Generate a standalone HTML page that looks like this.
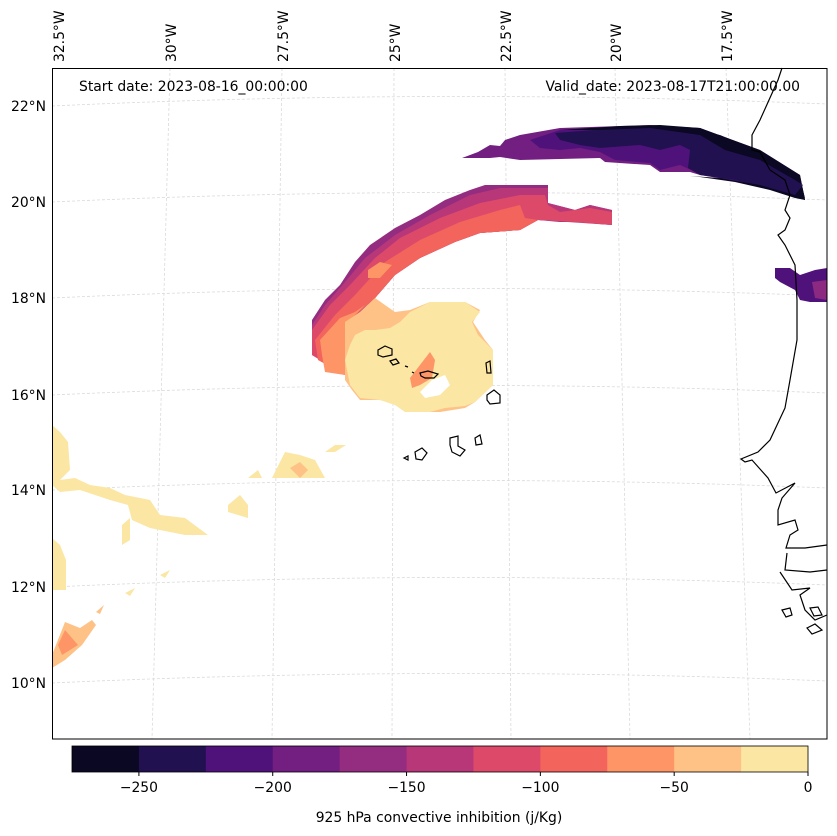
<!DOCTYPE html>
<html><head><meta charset="utf-8"><style>
body{margin:0;background:#fff;font-family:"DejaVu Sans","Liberation Sans",sans-serif}
svg{display:block}
</style></head><body>
<svg id="c" width="837" height="836" xmlns="http://www.w3.org/2000/svg" font-family="DejaVu Sans, Liberation Sans, sans-serif" font-size="13.9">
<g id="grid" stroke="#dadada" stroke-width="0.8" stroke-dasharray="3,2" fill="none"></g>
<g id="fields" stroke="none">
 <path fill="#721f81" d="M462,158 L478,152 L490,145 L500,146 L505,140 L520,135 L560,128 L650,125 L700,128 L760,150 L800,175 L805,200 L795,195 L770,188 L730,180 L700,175 L690,172 L660,172 L650,165 L605,162 L600,158 L520,160 L500,157 L490,158Z"/>
 <path fill="#4f127b" d="M530,140 L560,130 L650,126 L700,128 L760,152 L800,178 L805,200 L770,188 L730,180 L700,174 L680,165 L660,170 L650,163 L615,160 L600,152 L580,148 L560,150 L540,148Z"/>
 <path fill="#221150" d="M555,133 L620,128 L680,128 L720,135 L760,152 L800,178 L805,198 L770,188 L735,180 L700,175 L688,168 L690,150 L680,145 L660,150 L640,145 L600,148 L580,145 L560,140Z"/>
 <path fill="#0a0822" d="M560,130 L620,126 L660,125 L700,128 L760,150 L800,175 L805,200 L795,198 L770,190 L735,182 L700,177 L690,176 L720,178 L760,185 L795,195 L803,185 L795,180 L760,160 L725,150 L700,135 L650,128 L600,130Z"/>
 <path fill="#4f127b" d="M775,268 L790,268 L800,275 L815,270 L827,268 L827,302 L810,302 L800,300 L795,290 L780,282 L775,278Z"/>
 <path fill="#8c2981" d="M812,282 L827,280 L827,300 L815,298Z"/>
 <path fill="#942c80" d="M312,320 L325,300 L340,285 L355,262 L370,245 L395,228 L420,215 L445,200 L470,190 L485,185 L548,185 L548,203 L575,210 L590,205 L612,210 L612,225 L575,222 L560,222 L538,220 L520,230 L480,233 L455,242 L420,258 L395,275 L375,298 L360,312 L348,322 L345,375 L335,372 L325,357 L312,355Z"/>
 <path fill="#b73779" d="M312,325 L325,305 L345,282 L365,258 L395,235 L430,215 L470,195 L500,188 L548,188 L548,203 L575,210 L590,205 L612,210 L612,225 L538,220 L520,230 L480,233 L455,242 L420,258 L395,275 L375,298 L348,322 L345,375 L312,355Z"/>
 <path fill="#dd4a69" d="M312,330 L330,305 L350,285 L375,258 L400,238 L440,218 L480,203 L520,195 L545,195 L548,205 L560,212 L590,208 L612,212 L612,225 L575,222 L538,220 L520,230 L480,233 L455,242 L420,258 L395,275 L375,298 L348,322 L345,375 L312,355Z"/>
 <path fill="#f2645c" d="M315,340 L335,315 L355,295 L385,262 L420,240 L460,222 L500,210 L520,205 L525,218 L538,220 L520,230 L480,233 L455,242 L420,258 L395,275 L375,298 L348,322 L345,375 L318,360Z"/>
 <path fill="#fd9567" d="M368,270 L380,262 L392,265 L380,278 L368,278Z M320,340 L340,318 L355,312 L365,305 L348,322 L345,375 L325,372 L322,355Z"/>
 <path fill="#fec287" d="M345,322 L360,312 L375,298 L395,312 L410,310 L430,302 L465,302 L480,310 L473,322 L485,340 L493,350 L493,385 L475,402 L465,408 L440,412 L420,412 L400,405 L380,400 L360,400 L352,390 L345,380Z"/>
 <path fill="#fbe6a4" d="M355,335 L365,330 L375,330 L390,328 L400,322 L410,312 L430,302 L465,302 L480,312 L472,322 L478,335 L488,345 L493,350 L493,385 L475,402 L465,406 L445,408 L430,412 L405,412 L395,405 L380,400 L360,398 L350,385 L345,360 L350,345Z"/>
 <path fill="#fd9567" d="M420,365 L430,352 L435,360 L432,378 L420,385 L412,388 L410,378Z"/>
 <path fill="#ffffff" d="M420,392 L432,380 L445,375 L450,385 L440,395 L425,398Z"/>
 <path fill="#fbe6a4" d="M52,425 L60,432 L68,442 L70,470 L60,480 L75,478 L90,485 L110,488 L125,495 L150,500 L160,515 L185,518 L208,535 L185,535 L150,528 L132,520 L128,505 L110,500 L80,490 L60,492 L52,485Z"/>
 <path fill="#fbe6a4" d="M228,505 L240,495 L248,505 L248,518 L238,515 L228,512Z M52,538 L60,545 L66,560 L66,590 L52,590Z M122,525 L130,518 L130,540 L122,545Z M248,478 L258,470 L262,478Z M272,478 L285,452 L300,455 L315,460 L325,478 Z M325,452 L335,445 L346,445 L335,452Z M160,575 L170,570 L165,578Z M125,593 L135,588 L130,596Z"/>
 <path fill="#fec287" d="M290,468 L300,462 L308,470 L300,478 Z"/>
 <path fill="#fec287" d="M52,655 L65,622 L80,628 L92,620 L96,625 L82,645 L65,660 L52,668Z M96,612 L104,605 L100,614Z"/>
 <path fill="#fd9567" d="M65,630 L78,645 L62,655 L58,645Z"/>
</g>
<g fill="none" stroke="#000" stroke-width="1.2">
 <path d="M782,68 L778,80 L760,120 L752,135 L752,150 L760,152 L770,170 L785,180 L790,195 L785,210 L790,218 L785,230 L778,235 L785,245 L795,265 L797,300 L797,340 L790,380 L785,408 L770,440 L758,452 L741,459 L745,462 L752,460 L768,478 L776,493 L795,483 L782,498 L778,510 L778,525 L795,520 L798,530 L790,535 L786,548 L805,548 L827,545 M787,553 L785,570 L810,572 L827,570 M780,572 L792,590 L810,588 L800,595 L805,610 L815,620 L827,615"/>
 <path d="M378,350 L385,346 L392,349 L392,355 L383,357 L378,355Z M390,361 L396,359 L399,363 L393,365Z M405,366 L408,367 M412,372 L414,373 M420,373 L428,371 L438,374 L434,378 L425,378 L421,376Z M486,363 L490,361 L491,373 L487,373Z M487,395 L494,390 L500,395 L500,403 L490,404 L487,400Z M450,438 L458,436 L458,446 L465,450 L460,456 L452,452 L450,445Z M475,438 L480,435 L482,444 L476,445Z M415,452 L422,448 L427,453 L422,460 L416,459Z M404,458 L408,456 L408,460Z M782,610 L790,608 L792,615 L786,617Z M810,608 L818,607 L822,615 L814,616Z M807,628 L815,624 L822,630 L812,634Z"/>
</g>
<rect x="52.5" y="68.5" width="774.5" height="670.5" fill="none" stroke="#000" stroke-width="1"/>
<text x="79" y="91">Start date: 2023-08-16_00:00:00</text>
<text x="800" y="91" text-anchor="end">Valid_date: 2023-08-17T21:00:00.00</text>
<g id="lonlabels"></g>
<g id="latlabels"></g>
<g id="cbar"></g>
<text x="439" y="822" text-anchor="middle">925 hPa convective inhibition (j/Kg)</text>
</svg>
<script>
const levels=[-275,-250,-225,-200,-175,-150,-125,-100,-75,-50,-25,0];
const colors=["#0a0822","#221150","#4f127b","#721f81","#942c80","#b73779","#dd4a69","#f2645c","#fd9567","#fec287","#fbe6a4"];
const cbTicks=[-250,-200,-150,-100,-50,0];
const lonLabels=["32.5°W","30°W","27.5°W","25°W","22.5°W","20°W","17.5°W"];
const lonTop=[60,172,284,396,507,617,728];
const lonBottom=[null,152,272,392,511,630,750];
const latLabels=["22°N","20°N","18°N","16°N","14°N","12°N","10°N"];
const latLeft=[106,202,298,395,490,587,683];
const NS="http://www.w3.org/2000/svg";
function mk(t,a,p){const e=document.createElementNS(NS,t);for(const k in a)e.setAttribute(k,a[k]);p.appendChild(e);return e;}
const cb=document.getElementById('cbar');
const x0=72,x1=808;
const cx=v=>x0+(v-levels[0])/(levels[levels.length-1]-levels[0])*(x1-x0);
for(let i=0;i<colors.length;i++){
 const r=mk('rect',{x:cx(levels[i]),y:746,width:cx(levels[i+1])-cx(levels[i])+0.5,height:26,fill:colors[i]},cb);
 
 
}
mk('rect',{x:x0,y:746,width:x1-x0,height:26,fill:'none',stroke:'#000','stroke-width':0.8},cb);
cbTicks.forEach(v=>{
 mk('line',{x1:cx(v),x2:cx(v),y1:772,y2:776,stroke:'#000'},cb);
 const t=mk('text',{x:cx(v),y:792,'text-anchor':'middle'},cb);
 t.textContent=v<0?'\u2212'+Math.abs(v):v;
 
 
});
const g=document.getElementById('grid');
lonTop.forEach((x,i)=>{
 if(lonBottom[i]!==null){const l=mk('line',{x1:x-2,y1:68,x2:lonBottom[i],y2:739},g);
 
 }
 const t=mk('text',{transform:`translate(${x+4},62) rotate(-90)`},document.getElementById('lonlabels'));
 t.textContent=lonLabels[i];
 
 
});
latLeft.forEach((y,i)=>{
 const p=mk('path',{d:`M52,${y} Q440,${y-18} 827,${y-2}`},g);
 
 
 const t=mk('text',{x:46,y:y+5,'text-anchor':'end'},document.getElementById('latlabels'));
 t.textContent=latLabels[i];
 
 
});
</script>
</body></html>
